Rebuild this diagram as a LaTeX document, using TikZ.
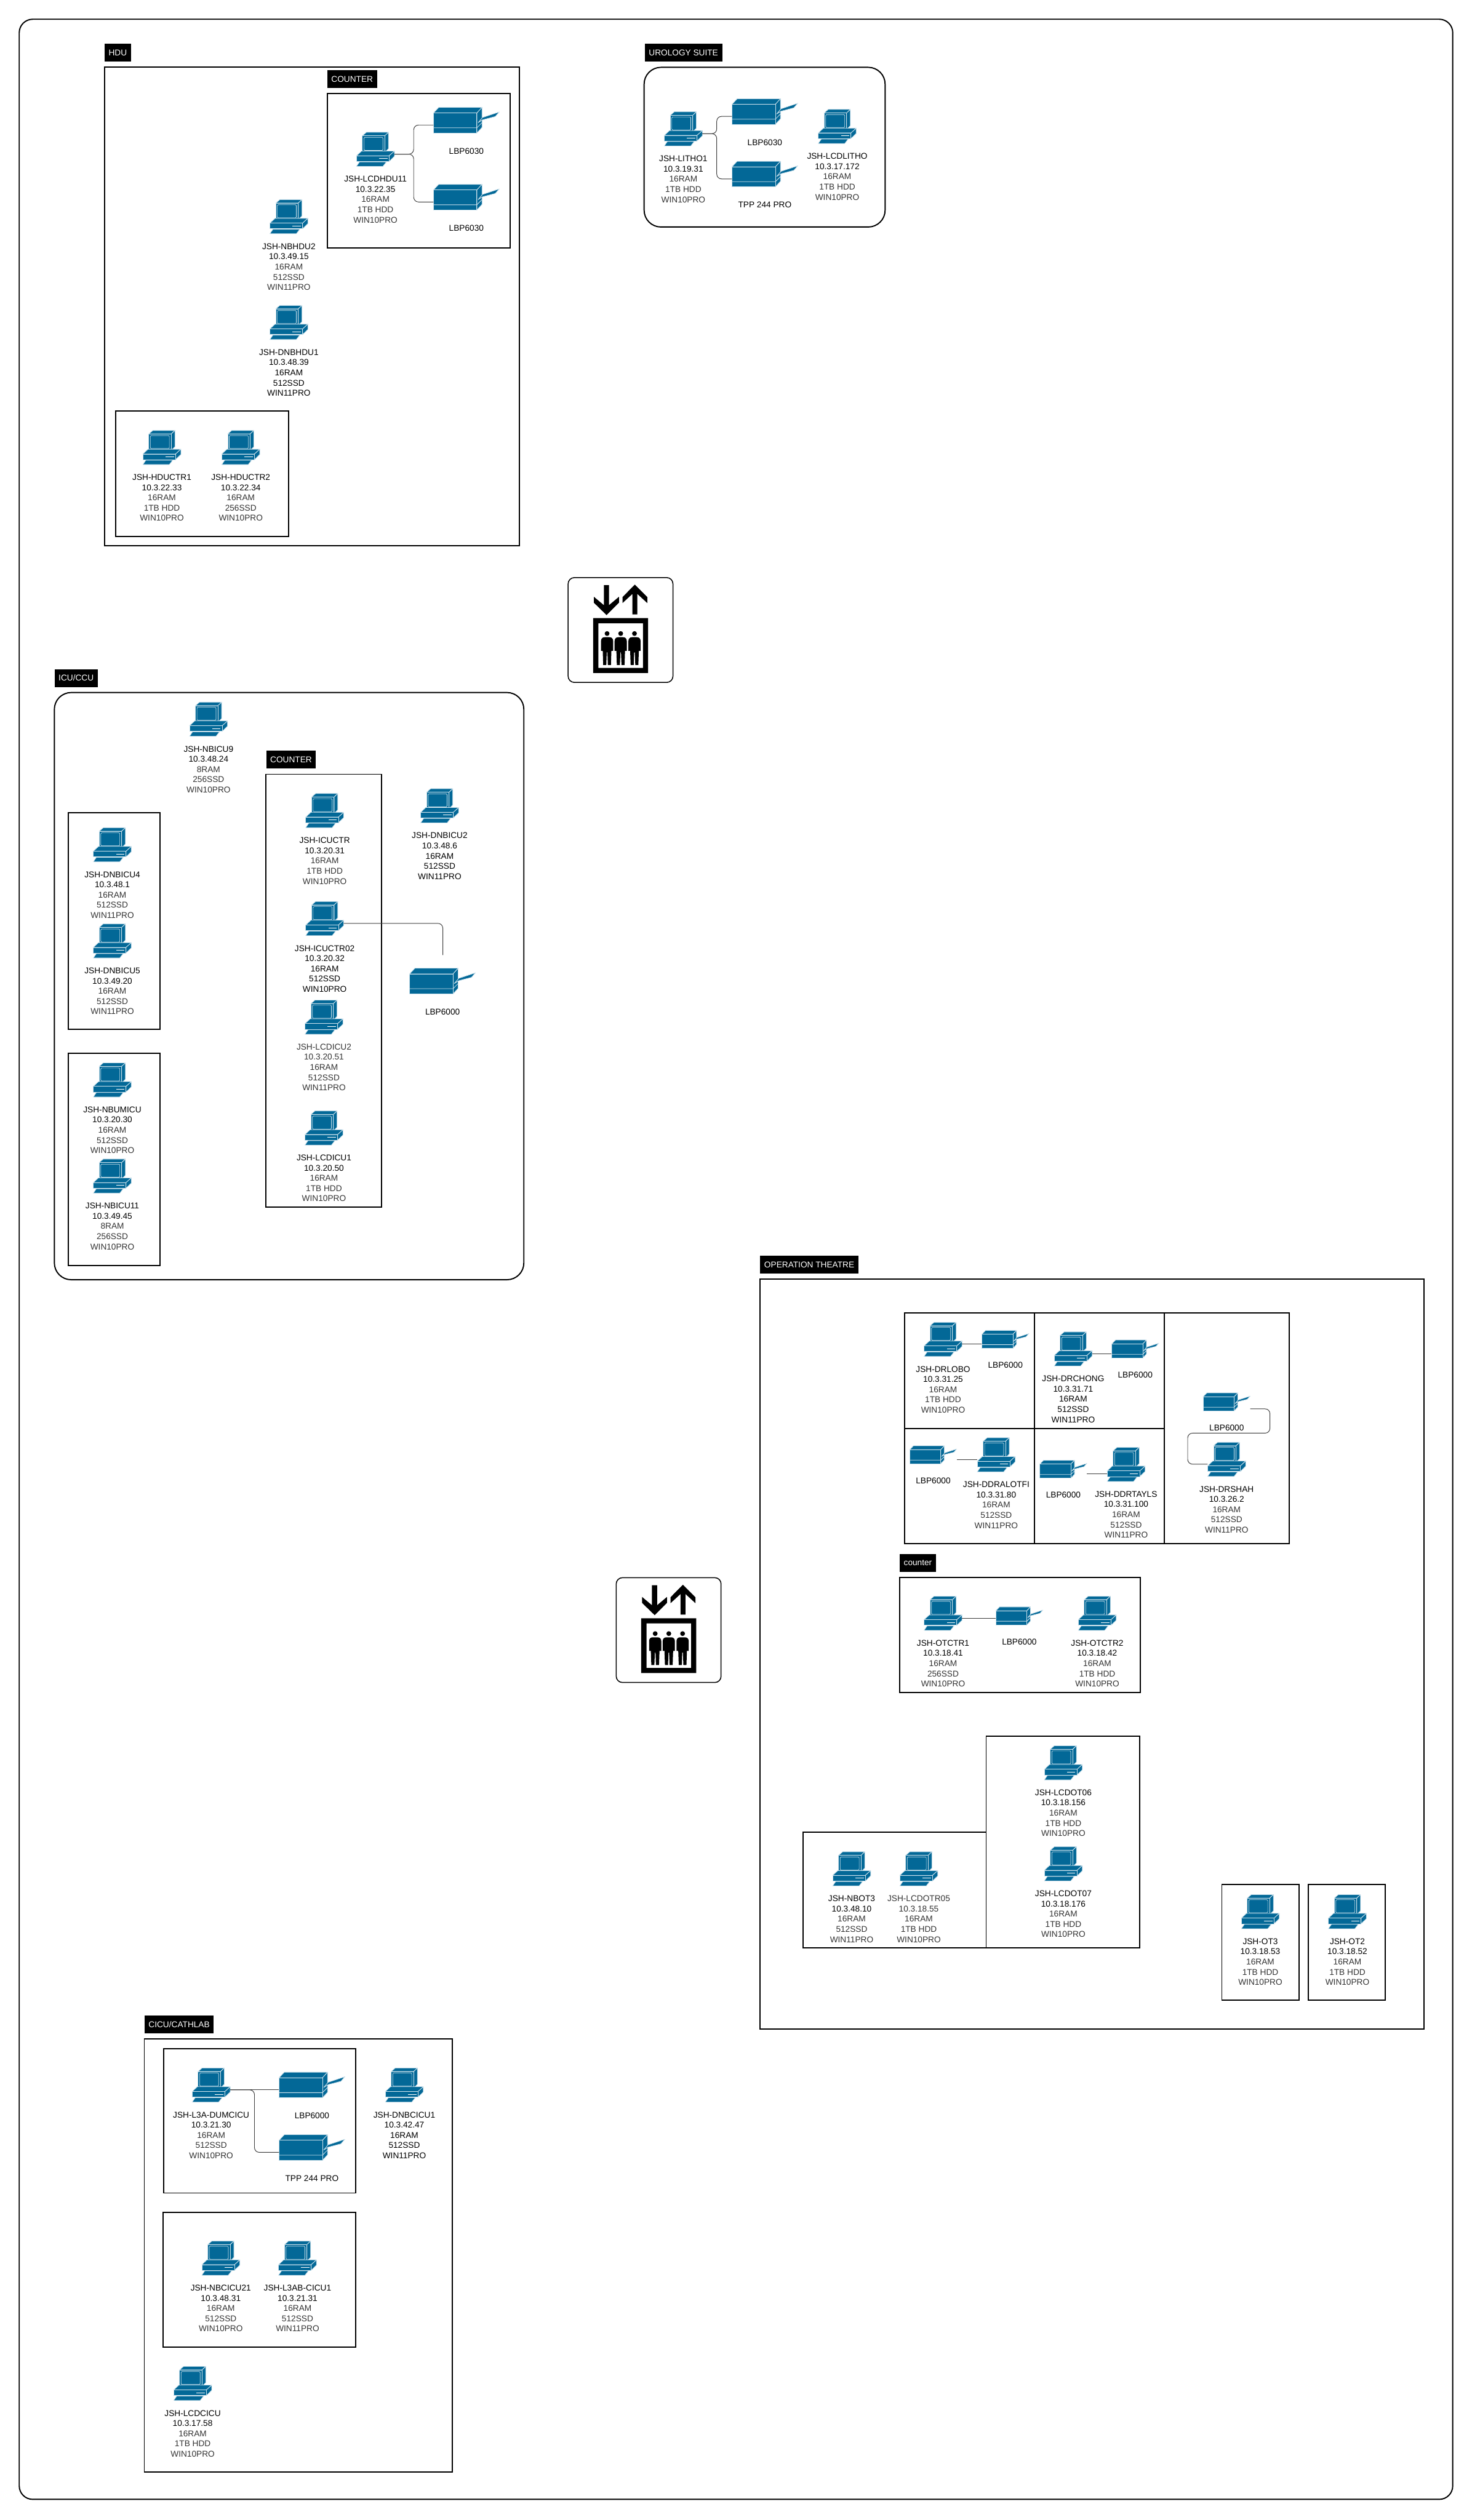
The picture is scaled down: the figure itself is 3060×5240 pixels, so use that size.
\documentclass[tikz,border=0pt]{standalone}
\usepackage{fontspec}
\setmainfont{Liberation Sans}
\usetikzlibrary{positioning}
\definecolor{IconBlue}{RGB}{3,104,151}
\definecolor{IconEdge}{RGB}{205,226,236}
\definecolor{SpecGrey}{RGB}{51,51,51}
\definecolor{LinkGrey}{RGB}{60,60,60}
\newcommand{\dimtxt}[1]{\textcolor{SpecGrey}{#1}}
\tikzset{
  tag/.style={fill=black,text=white,anchor=north west,inner xsep=0.17cm,inner ysep=0pt,
    minimum height=0.74cm,font=\fontsize{9.96}{12.1}\selectfont},
  room/.style={draw=black,line width=1.4pt},
  roundroom/.style={room,rounded corners=0.7cm},
  link/.style={draw=LinkGrey,line width=0.7pt,rounded corners=0.2cm},
  spec/.style={align=center,inner sep=0pt,font=\fontsize{9.96}{12.1}\selectfont,
    execute at begin node=\strut},
  pcbox/.style={inner sep=0pt,outer sep=0pt,minimum width=1.58cm,minimum height=1.42cm},
  bigbox/.style={inner sep=0pt,outer sep=0pt,minimum width=2.74cm,minimum height=1.08cm},
  smallbox/.style={inner sep=0pt,outer sep=0pt,minimum width=1.96cm,minimum height=0.76cm},
  liftbox/.style={draw=black,fill=white,line width=1.1pt,rounded corners=0.26cm,
    inner sep=0pt,minimum size=4.36cm},
  iconpart/.style={fill=IconBlue,draw=IconEdge,line width=0.6pt,line join=round},
  pics/computer/.style={code={
    \path[iconpart] (-27.2,-28.2) -- (-18.8,-35.5) -- (27.2,-35.5) -- (19.5,-28.2) -- cycle;
    \path[iconpart] (19.5,-28.2) -- (27.2,-35.5) -- (27.2,-1.5) -- (19.5,6.2) -- cycle;
    \path[iconpart] (-27.2,-28.2) rectangle (19.5,6.2);
    \draw[IconEdge,line width=0.5pt,rounded corners=1pt] (-24,-24.8) rectangle (15.5,2.2);
    \path[iconpart] (-39.5,13.5) -- (-28.8,3.5) -- (39.5,3.5) -- (28.5,13.5) -- cycle;
    \path[iconpart] (28.5,13.5) -- (39.5,3.5) -- (39.5,14.5) -- (28.5,25.2) -- cycle;
    \path[iconpart] (-39.5,13.5) rectangle (28.5,25.2);
    \fill[white] (7.7,18.8) rectangle (25,19.8);
    \path[iconpart] (-39.5,35.5) -- (-33.2,26.2) -- (22.8,26.2) -- (15.5,35.5) -- cycle;
  }},
  pics/printer/.style={code={
    \path[iconpart] (-68.5,-15) -- (-57.5,-26.7) -- (32.5,-26.7) -- (21.8,-15) -- cycle;
    \path[iconpart] (21.8,-15) -- (32.5,-26.7) -- (32.5,15) -- (21.8,26.7) -- cycle;
    \path[iconpart] (-68.5,-15) rectangle (21.8,26.7);
    \draw[IconEdge,line width=0.6pt] (-68.5,15.8) -- (21.8,15.8) -- (32.5,5);
    \path[iconpart] (24.5,5) -- (33.5,-5.7) -- (68.5,-17.3) -- (60.2,-7.7) -- (33.5,-0.7) -- cycle;
  }},
  pics/lift/.style={code={
    \begin{scope}[x=0.00667cm,y=-0.00667cm,shift={(-390,-390)}]
      \fill (286,110) -- (318,110) -- (318,235) -- (380,183) -- (380,220) -- (303,297)
        -- (224,220) -- (224,183) -- (286,235) -- cycle;
      \fill (479,107) -- (557,185) -- (557,222) -- (495,165) -- (495,293) -- (464,293)
        -- (464,165) -- (402,222) -- (402,185) -- cycle;
      \fill[even odd rule] (219,316) rectangle (562,658) (252,348) rectangle (530,626);
      \foreach \px in {306,391,477} {
        \begin{scope}[shift={(\px,0)}]
          \fill (0,412) circle [radius=15];
          \fill (-38,520) -- (-38,460) .. controls (-38,445) and (-30,435) .. (-15,435)
            -- (15,435) .. controls (30,435) and (38,445) .. (38,460) -- (38,520) -- (27,520)
            -- (24,608) -- (5,608) -- (2,530) -- (-2,530) -- (-5,608) -- (-24,608)
            -- (-27,520) -- cycle;
        \end{scope}
      }
    \end{scope}
  }}
}
\newcommand{\pc}[4]{
  \node[pcbox] (#1) at (#2,#3) {};
  \pic at (#1) {computer};
  \coordinate (#1-e) at ([yshift=-0.2cm]#1.east);
  \coordinate (#1-w) at ([yshift=-0.2cm]#1.west);
  \node[spec,below=0.396cm of #1] (#1-txt) {#4};
}
\newcommand{\bigprn}[4]{
  \node[bigbox] (#1) at (#2,#3) {};
  \pic at (#1) {printer};
  \coordinate (#1-w) at ([yshift=-0.2cm]#1.west);
  \node[spec,below=0.554cm of #1] (#1-txt) {#4};
}
\newcommand{\smallprn}[4]{
  \node[smallbox] (#1) at (#2,#3) {};
  \pic[xscale=0.715,yscale=0.7] at (#1) {printer};
  \coordinate (#1-e) at ([yshift=-0.2cm]#1.east);
  \coordinate (#1-w) at ([yshift=-0.2cm]#1.west);
  \node[spec,below=0.514cm of #1] (#1-txt) {#4};
}
\begin{document}
\begin{tikzpicture}[x=0.02cm,y=-0.02cm]
  \useasboundingbox (0,0) rectangle (3060,5240);
  \draw[room,rounded corners=0.56cm] (40,40) rectangle (3020,5197);

  % HDU
  \node[tag] (hdutag) at (217,91) {HDU};
  \draw[room] (217,140) rectangle (1080,1135);
  \node[tag] (hducountertag) at (680,146) {COUNTER};
  \draw[room] (680,194) rectangle (1060,515);
  \draw[room] (240,855) rectangle (600,1115);
  \pc{lcdhdu11}{780.5}{310.5}{JSH-LCDHDU11\\10.3.22.35\\\dimtxt{16RAM}\\\dimtxt{1TB HDD}\\\dimtxt{WIN10PRO}}
  \bigprn{hduprn1}{969.5}{250}{LBP6030}
  \bigprn{hduprn2}{969.5}{410}{LBP6030}
  \draw[link] (lcdhdu11-e) -- ++(40,0) |- (hduprn1-w);
  \draw[link] (lcdhdu11-e) -- ++(40,0) |- (hduprn2-w);
  \pc{nbhdu2}{600.5}{450.5}{JSH-NBHDU2\\10.3.49.15\\\dimtxt{16RAM}\\\dimtxt{512SSD}\\\dimtxt{WIN11PRO}}
  \pc{dnbhdu1}{600.5}{670.5}{JSH-DNBHDU1\\10.3.48.39\\16RAM\\512SSD\\WIN11PRO}
  \pc{hductr1}{336.5}{930.5}{JSH-HDUCTR1\\10.3.22.33\\\dimtxt{16RAM}\\\dimtxt{1TB HDD}\\\dimtxt{WIN10PRO}}
  \pc{hductr2}{500.5}{930.5}{JSH-HDUCTR2\\10.3.22.34\\\dimtxt{16RAM}\\\dimtxt{256SSD}\\\dimtxt{WIN10PRO}}

  % urology
  \node[tag] (urotag) at (1340,91) {UROLOGY SUITE};
  \draw[roundroom] (1339,140) rectangle (1840,472);
  \pc{litho1}{1420.5}{268}{JSH-LITHO1\\10.3.19.31\\\dimtxt{16RAM}\\\dimtxt{1TB HDD}\\\dimtxt{WIN10PRO}}
  \pc{lcdlitho}{1740.5}{263}{JSH-LCDLITHO\\10.3.17.172\\\dimtxt{16RAM}\\\dimtxt{1TB HDD}\\\dimtxt{WIN10PRO}}
  \bigprn{uroprn1}{1590}{232}{LBP6030}
  \bigprn{uroprn2}{1590}{362}{TPP 244 PRO}
  \draw[link] (litho1-e) -- ++(30,0) |- (uroprn1-w);
  \draw[link] (litho1-e) -- ++(30,0) |- (uroprn2-w);

  \node[liftbox] (lift1) at (1290,1310) {};
  \pic at (lift1) {lift};
  \node[liftbox] (lift2) at (1390,3389.5) {};
  \pic at (lift2) {lift};

  % ICU
  \node[tag] (icutag) at (113,1391) {ICU/CCU};
  \draw[roundroom] (113,1440) rectangle (1089,2661);
  \node[tag] (icucountertag) at (553,1561) {COUNTER};
  \draw[room] (553,1610) rectangle (793,2510);
  \draw[room] (142,1690) rectangle (333,2140);
  \draw[room] (142,2190) rectangle (333,2631);
  \pc{nbicu9}{433.5}{1495.5}{JSH-NBICU9\\10.3.48.24\\\dimtxt{8RAM}\\\dimtxt{256SSD}\\\dimtxt{WIN10PRO}}
  \pc{icuctr}{675}{1685.5}{JSH-ICUCTR\\10.3.20.31\\\dimtxt{16RAM}\\\dimtxt{1TB HDD}\\\dimtxt{WIN10PRO}}
  \pc{icuctr02}{675}{1910}{JSH-ICUCTR02\\10.3.20.32\\16RAM\\512SSD\\WIN10PRO}
  \pc{lcdicu2}{673.5}{2115}{\dimtxt{JSH-LCDICU2}\\\dimtxt{10.3.20.51}\\\dimtxt{16RAM}\\\dimtxt{512SSD}\\\dimtxt{WIN11PRO}}
  \pc{lcdicu1}{673.5}{2345.5}{JSH-LCDICU1\\10.3.20.50\\\dimtxt{16RAM}\\\dimtxt{1TB HDD}\\\dimtxt{WIN10PRO}}
  \pc{dnbicu2}{914}{1675.5}{JSH-DNBICU2\\10.3.48.6\\16RAM\\512SSD\\WIN11PRO}
  \pc{dnbicu4}{233.5}{1756.5}{JSH-DNBICU4\\10.3.48.1\\\dimtxt{16RAM}\\\dimtxt{512SSD}\\\dimtxt{WIN11PRO}}
  \pc{dnbicu5}{233.5}{1956.5}{JSH-DNBICU5\\10.3.49.20\\\dimtxt{16RAM}\\\dimtxt{512SSD}\\\dimtxt{WIN11PRO}}
  \pc{nbumicu}{233.5}{2245.5}{JSH-NBUMICU\\10.3.20.30\\\dimtxt{16RAM}\\\dimtxt{512SSD}\\\dimtxt{WIN10PRO}}
  \pc{nbicu11}{233.5}{2445.5}{JSH-NBICU11\\10.3.49.45\\\dimtxt{8RAM}\\\dimtxt{256SSD}\\\dimtxt{WIN10PRO}}
  \bigprn{icuprn}{920}{2040}{LBP6000}
  \coordinate (icuprn-top) at (920.5,1986);
  \draw[link] (icuctr02-e) -| (icuprn-top);

  % operation theatre
  \node[tag] (ottag) at (1580,2611) {OPERATION THEATRE};
  \draw[room] (1580,2660) rectangle (2960,4219);
  \draw[room] (1880,2730) rectangle (2680,3209.5);
  \draw[room] (2150,2730) -- (2150,3209.5);
  \draw[room] (2420,2730) -- (2420,3209.5);
  \draw[room] (1880,2970) -- (2420,2970);
  \pc{drlobo}{1960.5}{2785}{JSH-DRLOBO\\10.3.31.25\\\dimtxt{16RAM}\\\dimtxt{1TB HDD}\\\dimtxt{WIN10PRO}}
  \smallprn{loboprn}{2090}{2785}{LBP6000}
  \draw[link] (drlobo-e) -- (loboprn-w);
  \pc{drchong}{2231}{2805}{JSH-DRCHONG\\10.3.31.71\\16RAM\\512SSD\\WIN11PRO}
  \smallprn{chongprn}{2360}{2805}{LBP6000}
  \draw[link] (drchong-e) -- (chongprn-w);
  \pc{ddralotfi}{2071}{3025}{JSH-DDRALOTFI\\10.3.31.80\\\dimtxt{16RAM}\\\dimtxt{512SSD}\\\dimtxt{WIN11PRO}}
  \smallprn{alotfiprn}{1940}{3025}{LBP6000}
  \draw[link] (alotfiprn-e) -- (ddralotfi-w);
  \pc{ddrtayls}{2341}{3045}{JSH-DDRTAYLS\\10.3.31.100\\\dimtxt{16RAM}\\\dimtxt{512SSD}\\\dimtxt{WIN11PRO}}
  \smallprn{taylsprn}{2210.5}{3055}{LBP6000}
  \draw[link] (taylsprn-e) -- (taylsprn-e -| ddrtayls.west);
  \pc{drshah}{2550}{3034.5}{JSH-DRSHAH\\10.3.26.2\\\dimtxt{16RAM}\\\dimtxt{512SSD}\\\dimtxt{WIN11PRO}}
  \smallprn{shahprn}{2550}{2915}{LBP6000}
  \draw[link] ([yshift=-0.09cm]shahprn-e) -| ++(41,50.5) -| ++(-171,64.5) -- (drshah-w);

  \node[tag] (otcountertag) at (1870,3231) {counter};
  \draw[room] (1870,3279.5) rectangle (2370.5,3519.5);
  \pc{otctr1}{1960.5}{3354.5}{JSH-OTCTR1\\10.3.18.41\\\dimtxt{16RAM}\\\dimtxt{256SSD}\\\dimtxt{WIN10PRO}}
  \pc{otctr2}{2281}{3354.5}{JSH-OTCTR2\\10.3.18.42\\\dimtxt{16RAM}\\\dimtxt{1TB HDD}\\\dimtxt{WIN10PRO}}
  \smallprn{otprn}{2119}{3360}{LBP6000}
  \draw[link] (otctr1-e) -- (otctr1-e -| otprn.west);

  \draw[room] (2050,3610) rectangle (2369.5,4050);
  \draw[room] (1669.5,3809.5) rectangle (2050,4050);
  \draw[room] (2540,3918.5) rectangle (2700,4159);
  \draw[room] (2720,3918.5) rectangle (2879.5,4159);
  \pc{lcdot06}{2210.5}{3665.5}{JSH-LCDOT06\\10.3.18.156\\\dimtxt{16RAM}\\\dimtxt{1TB HDD}\\\dimtxt{WIN10PRO}}
  \pc{lcdot07}{2210.5}{3875.5}{JSH-LCDOT07\\10.3.18.176\\\dimtxt{16RAM}\\\dimtxt{1TB HDD}\\\dimtxt{WIN10PRO}}
  \pc{nbot3}{1770.5}{3886}{JSH-NBOT3\\10.3.48.10\\\dimtxt{16RAM}\\\dimtxt{512SSD}\\\dimtxt{WIN11PRO}}
  \pc{lcdotr05}{1910}{3886}{\dimtxt{JSH-LCDOTR05}\\\dimtxt{10.3.18.55}\\\dimtxt{16RAM}\\\dimtxt{1TB HDD}\\\dimtxt{WIN10PRO}}
  \pc{ot3}{2620}{3975}{JSH-OT3\\10.3.18.53\\\dimtxt{16RAM}\\\dimtxt{1TB HDD}\\\dimtxt{WIN10PRO}}
  \pc{ot2}{2801}{3975}{JSH-OT2\\10.3.18.52\\\dimtxt{16RAM}\\\dimtxt{1TB HDD}\\\dimtxt{WIN10PRO}}

  % CICU
  \node[tag] (cicutag) at (300,4191) {CICU/CATHLAB};
  \draw[room] (300,4240) rectangle (940.5,5140);
  \draw[room] (340,4260.5) rectangle (739,4560);
  \draw[room] (339,4600.5) rectangle (739,4880);
  \pc{l3adumcicu}{439}{4335.5}{JSH-L3A-DUMCICU\\10.3.21.30\\\dimtxt{16RAM}\\\dimtxt{512SSD}\\\dimtxt{WIN10PRO}}
  \bigprn{cicuprn1}{648.5}{4335.5}{LBP6000}
  \bigprn{cicuprn2}{648.5}{4465.5}{TPP 244 PRO}
  \draw[link] (l3adumcicu-e) -- (cicuprn1-w);
  \draw[link] (l3adumcicu-e) -- ++(50.5,0) |- (cicuprn2-w);
  \pc{dnbcicu1}{840.5}{4335.5}{JSH-DNBCICU1\\10.3.42.47\\16RAM\\512SSD\\WIN11PRO}
  \pc{nbcicu21}{459}{4695.5}{JSH-NBCICU21\\10.3.48.31\\\dimtxt{16RAM}\\\dimtxt{512SSD}\\\dimtxt{WIN10PRO}}
  \pc{l3abcicu1}{618.5}{4695.5}{JSH-L3AB-CICU1\\10.3.21.31\\\dimtxt{16RAM}\\\dimtxt{512SSD}\\\dimtxt{WIN11PRO}}
  \pc{lcdcicu}{400.5}{4956}{JSH-LCDCICU\\10.3.17.58\\\dimtxt{16RAM}\\\dimtxt{1TB HDD}\\\dimtxt{WIN10PRO}}
\end{tikzpicture}
\end{document}
